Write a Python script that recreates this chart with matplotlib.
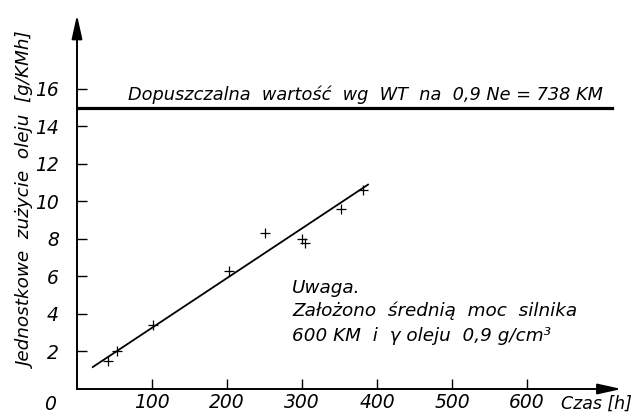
import matplotlib
matplotlib.use('Agg')
import matplotlib.pyplot as plt

# dane
czas = [41, 53, 101, 202, 251, 300, 304, 352, 381]          # [h]
zuzycie = [1.5, 2.0, 3.4, 6.3, 8.3, 8.0, 7.8, 9.6, 10.6]    # [g/KMh]
prosta_x = [21, 388]
prosta_y = [1.17, 10.9]
dopuszczalna = 15.0
dopuszczalna_x = [0, 713]
xticks = [100, 200, 300, 400, 500, 600]
yticks = [2, 4, 6, 8, 10, 12, 14, 16]

plt.rcParams['font.family'] = ['DejaVu Sans']
plt.rcParams['font.style'] = 'italic'
fs = 13.2

W, H = 635, 415
fig = plt.figure(figsize=(W/100, H/100), dpi=100)
fig.patch.set_facecolor('white')
ax = fig.add_axes([77/W, 26/H, 555/W, 384.4/H])
ax.set_xlim(0, 740)
ax.set_ylim(0, 20.5)
for s in ax.spines.values():
    s.set_visible(False)

# osie ze strzalkami
arr = dict(arrowstyle='-|>,head_length=0.9,head_width=0.2', lw=1.4, color='k',
           shrinkA=0, shrinkB=0, mutation_scale=16)
ax.annotate('', xy=(0, 19.95), xytext=(0, 0), arrowprops=arr)
ax.annotate('', xy=(726, 0), xytext=(0, 0), arrowprops=arr)

ax.set_xticks(xticks)
ax.set_yticks(yticks)
ax.tick_params(direction='in', length=7, width=1.0, labelsize=13.5)
ax.tick_params(axis='y', pad=13)
ax.tick_params(axis='x', pad=3)

ax.plot(dopuszczalna_x, [dopuszczalna, dopuszczalna], 'k-', lw=2.3)
ax.text(68, 15.4, 'Dopuszczalna  wartość  wg  WT  na  0,9 Ne = 738 KM',
        fontsize=12.8, va='baseline', ha='left')

ax.plot(prosta_x, prosta_y, 'k-', lw=1.3)
ax.plot(czas, zuzycie, 'k+', ms=7, mew=0.9)

ax.text(287, 5.12, 'Uwaga.', fontsize=fs, va='baseline')
ax.text(287, 3.9, 'Założono  średnią  moc  silnika', fontsize=fs, va='baseline')
ax.text(287, 2.56, '600 KM  i  γ oleju  0,9 g/cm³', fontsize=fs, va='baseline')

ax.text(-36, -0.3, '0', fontsize=13.5, ha='center', va='top')
ax.text(740, -0.3, 'Czas [h]', fontsize=12.5, ha='right', va='top')

fig.text(27/W, 1 - 201/H, 'Jednostkowe  zużycie  oleju  [g/KMh]', rotation=90,
         fontsize=fs, ha='center', va='center')

plt.savefig('out.png', dpi=100)
